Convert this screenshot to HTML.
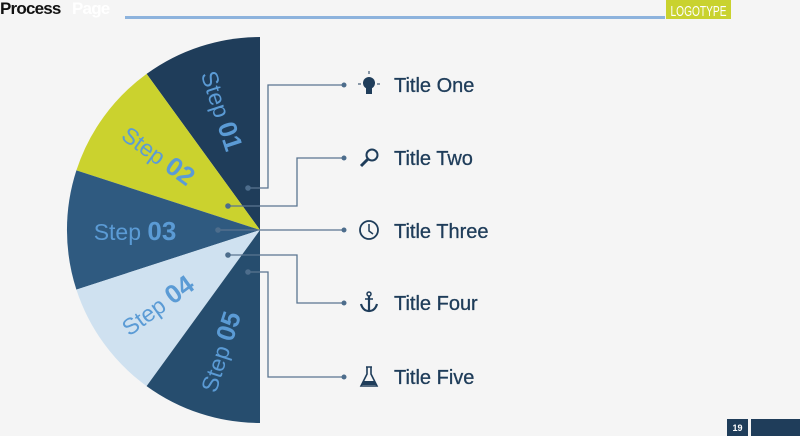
<!DOCTYPE html>
<html><head><style>
body{margin:0;background:#f5f5f5;}
svg{display:block;font-family:"Liberation Sans",sans-serif;}
</style></head><body>
<svg width="800" height="436" viewBox="0 0 800 436">
<rect width="800" height="436" fill="#f5f5f5"/>
<text x="0" y="14" font-size="17" font-weight="bold" fill="#111" letter-spacing="-0.8">Process</text>
<text x="72" y="14" font-size="17" font-weight="bold" fill="#fff" letter-spacing="-0.8">Page</text>
<rect x="125" y="16" width="540" height="3" fill="#8db3dd"/>
<rect x="666" y="0" width="65" height="19" fill="#c9d22f"/>
<text x="698.5" y="16" font-size="15" fill="#fff" text-anchor="middle" textLength="56" lengthAdjust="spacingAndGlyphs">LOGOTYPE</text>
<path d="M260,230 L260,37 A193,193 0 0 0 146.6,73.9 Z" fill="#1f3d5a"/>
<path d="M260,230 L146.6,73.9 A193,193 0 0 0 76.4,170.4 Z" fill="#cbd22e"/>
<path d="M260,230 L76.4,170.4 A193,193 0 0 0 76.4,289.6 Z" fill="#2f5a80"/>
<path d="M260,230 L76.4,289.6 A193,193 0 0 0 146.6,386.1 Z" fill="#cfe1f0"/>
<path d="M260,230 L146.6,386.1 A193,193 0 0 0 260,423 Z" fill="#264d6e"/>
<g fill="#5b9bd5" font-size="23">
<text transform="translate(221,111) rotate(72)" text-anchor="middle" dy="8">Step <tspan font-weight="bold" font-size="26">01</tspan></text>
<text transform="translate(158,156) rotate(36)" text-anchor="middle" dy="8">Step <tspan font-weight="bold" font-size="26">02</tspan></text>
<text transform="translate(135,232)" text-anchor="middle" dy="8">Step <tspan font-weight="bold" font-size="26">03</tspan></text>
<text transform="translate(158,306) rotate(-36)" text-anchor="middle" dy="8">Step <tspan font-weight="bold" font-size="26">04</tspan></text>
<text transform="translate(221,352) rotate(-72)" text-anchor="middle" dy="8">Step <tspan font-weight="bold" font-size="26">05</tspan></text>
</g>
<g stroke="#5a7590" stroke-width="1.3" fill="none">
<polyline points="248,188 268,188 268,85 345,85"/>
<polyline points="228,206 297,206 297,158 345,158"/>
<polyline points="218,230 345,230"/>
<polyline points="228,255 297,255 297,303 345,303"/>
<polyline points="248,272 268,272 268,377 345,377"/>
</g>
<g fill="#4d6d8c">
<circle cx="248" cy="188" r="2.8"/><circle cx="228" cy="206" r="2.8"/><circle cx="218" cy="230" r="2.8"/><circle cx="228" cy="255" r="2.8"/><circle cx="248" cy="272" r="2.8"/>
<circle cx="344" cy="85" r="2.5"/><circle cx="344" cy="158" r="2.5"/><circle cx="344" cy="230" r="2.5"/><circle cx="344" cy="303" r="2.5"/><circle cx="344" cy="377" r="2.5"/>
</g>
<g fill="#1f3d5a" stroke="#1f3d5a">
<circle cx="369" cy="83" r="6" stroke="none"/><rect x="366" y="88" width="6" height="6" stroke="none"/>
<line x1="358" y1="84" x2="361" y2="84" stroke-width="1"/><line x1="377" y1="84" x2="380" y2="84" stroke-width="1"/><line x1="369" y1="71" x2="369" y2="74" stroke-width="1"/>
<circle cx="372" cy="155" r="5.5" fill="none" stroke-width="2"/><line x1="368" y1="159" x2="361" y2="166" stroke-width="3"/>
<circle cx="369" cy="230" r="9" fill="none" stroke-width="1.8"/><polyline points="369,224 369,231 373,234" fill="none" stroke-width="1.5"/>
<circle cx="369" cy="294" r="2" fill="none" stroke-width="1.5"/><line x1="369" y1="296" x2="369" y2="310" stroke-width="2.2"/><line x1="365" y1="299" x2="373" y2="299" stroke-width="1.5"/><path d="M361,304 Q363,311 369,311 Q375,311 377,304" fill="none" stroke-width="2.2"/>
<path d="M366,367 L372,367 M367,367 L367,374 L361,386 L377,386 L371,374 L371,367" fill="none" stroke-width="1.6"/><path d="M363,381 L375,381 L376,385 L362,385 Z" stroke="none"/>
</g>
<g fill="#1f3d5a" font-size="20" stroke="#1f3d5a" stroke-width="0.3">
<text x="394" y="92">Title One</text>
<text x="394" y="165">Title Two</text>
<text x="394" y="238">Title Three</text>
<text x="394" y="310">Title Four</text>
<text x="394" y="384">Title Five</text>
</g>
<rect x="727" y="419" width="21" height="17" fill="#1f3d5a"/>
<text x="737.5" y="431" font-size="9" font-weight="bold" fill="#fff" text-anchor="middle">19</text>
<rect x="751" y="419" width="49" height="17" fill="#1f3d5a"/>
</svg>
</body></html>
